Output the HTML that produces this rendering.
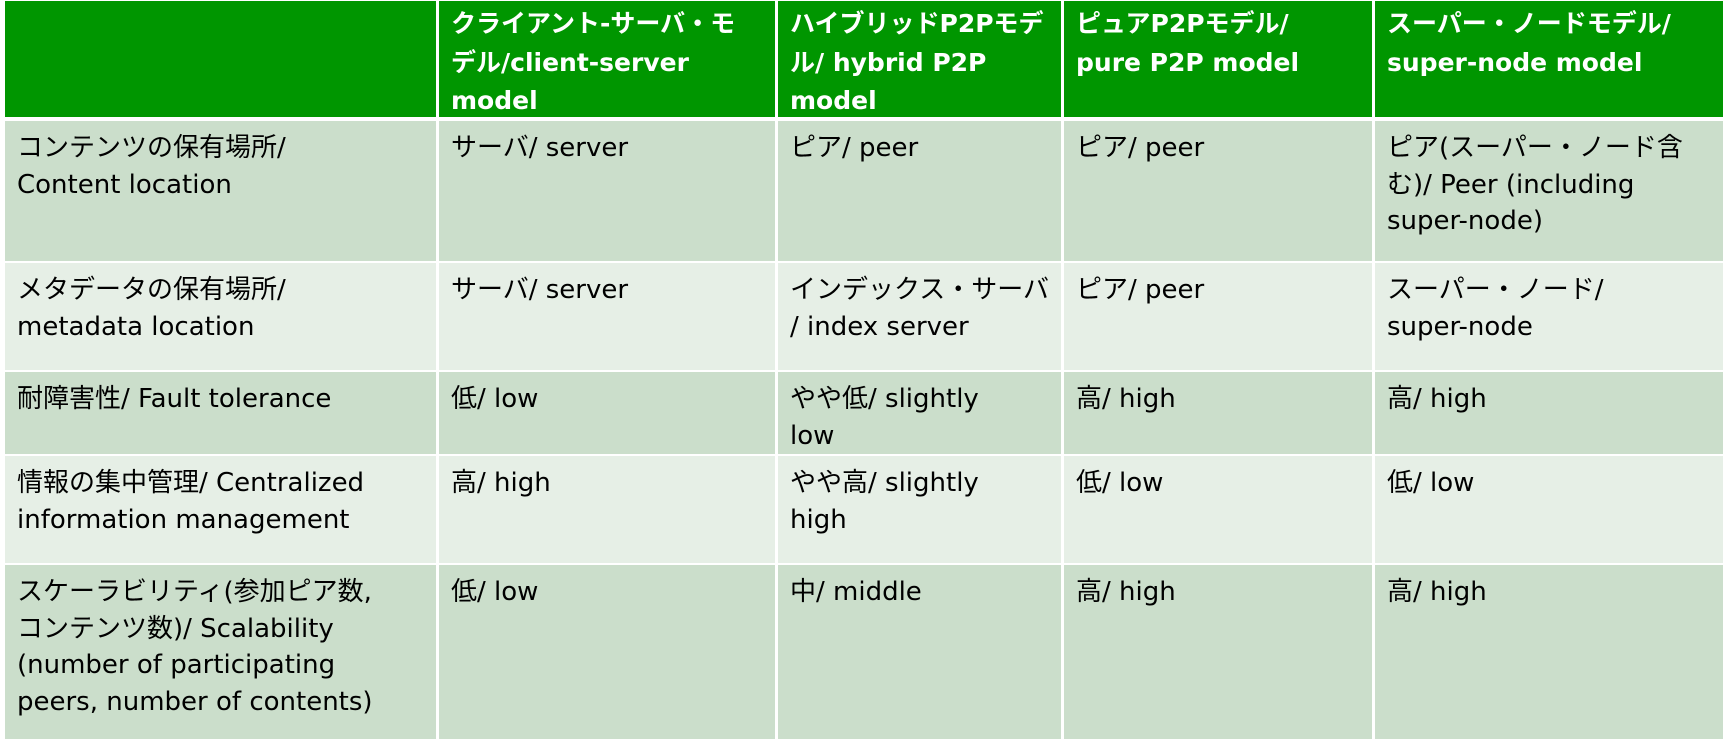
<!DOCTYPE html>
<html><head><meta charset="utf-8"><style>
body{margin:0;width:1725px;height:743px;background:#fff;position:relative;overflow:hidden;font-family:"DejaVu Sans","Noto Sans CJK JP",sans-serif;}
.c{position:absolute;box-sizing:border-box;padding:9px 0 0 12px;font-size:26px;line-height:36.5px;color:#000;white-space:nowrap;overflow:hidden;}
.h{background:#009600;color:#fff;font-weight:bold;line-height:38.5px;padding-top:4px;font-size:25px;}
.o{background:#cbdecb;}
.e{background:#e6efe6;}
</style></head><body>
<!-- header -->
<div class="c h" style="left:5px;top:1px;width:431px;height:116px"></div>
<div class="c h" style="left:439px;top:1px;width:336px;height:116px">クライアント-サーバ・モ<br>デル/client-server<br>model</div>
<div class="c h" style="left:778px;top:1px;width:283px;height:116px">ハイブリッドP2Pモデ<br>ル/ hybrid P2P<br>model</div>
<div class="c h" style="left:1064px;top:1px;width:308px;height:116px">ピュアP2Pモデル/<br>pure P2P model</div>
<div class="c h" style="left:1375px;top:1px;width:348px;height:116px">スーパー・ノードモデル/<br>super-node model</div>
<!-- row1 -->
<div class="c o" style="left:5px;top:121px;width:431px;height:140px">コンテンツの保有場所/<br>Content location</div>
<div class="c o" style="left:439px;top:121px;width:336px;height:140px">サーバ/ server</div>
<div class="c o" style="left:778px;top:121px;width:283px;height:140px">ピア/ peer</div>
<div class="c o" style="left:1064px;top:121px;width:308px;height:140px">ピア/ peer</div>
<div class="c o" style="left:1375px;top:121px;width:348px;height:140px">ピア(スーパー・ノード含<br>む)/ Peer (including<br>super-node)</div>
<!-- row2 -->
<div class="c e" style="left:5px;top:263px;width:431px;height:107px">メタデータの保有場所/<br>metadata location</div>
<div class="c e" style="left:439px;top:263px;width:336px;height:107px">サーバ/ server</div>
<div class="c e" style="left:778px;top:263px;width:283px;height:107px">インデックス・サーバ<br>/ index server</div>
<div class="c e" style="left:1064px;top:263px;width:308px;height:107px">ピア/ peer</div>
<div class="c e" style="left:1375px;top:263px;width:348px;height:107px">スーパー・ノード/<br>super-node</div>
<!-- row3 -->
<div class="c o" style="left:5px;top:372px;width:431px;height:82px">耐障害性/ Fault tolerance</div>
<div class="c o" style="left:439px;top:372px;width:336px;height:82px">低/ low</div>
<div class="c o" style="left:778px;top:372px;width:283px;height:82px">やや低/ slightly<br>low</div>
<div class="c o" style="left:1064px;top:372px;width:308px;height:82px">高/ high</div>
<div class="c o" style="left:1375px;top:372px;width:348px;height:82px">高/ high</div>
<!-- row4 -->
<div class="c e" style="left:5px;top:456px;width:431px;height:107px">情報の集中管理/ Centralized<br>information management</div>
<div class="c e" style="left:439px;top:456px;width:336px;height:107px">高/ high</div>
<div class="c e" style="left:778px;top:456px;width:283px;height:107px">やや高/ slightly<br>high</div>
<div class="c e" style="left:1064px;top:456px;width:308px;height:107px">低/ low</div>
<div class="c e" style="left:1375px;top:456px;width:348px;height:107px">低/ low</div>
<!-- row5 -->
<div class="c o" style="left:5px;top:565px;width:431px;height:174px">スケーラビリティ(参加ピア数,<br>コンテンツ数)/ Scalability<br>(number of participating<br>peers, number of contents)</div>
<div class="c o" style="left:439px;top:565px;width:336px;height:174px">低/ low</div>
<div class="c o" style="left:778px;top:565px;width:283px;height:174px">中/ middle</div>
<div class="c o" style="left:1064px;top:565px;width:308px;height:174px">高/ high</div>
<div class="c o" style="left:1375px;top:565px;width:348px;height:174px">高/ high</div>
</body></html>
